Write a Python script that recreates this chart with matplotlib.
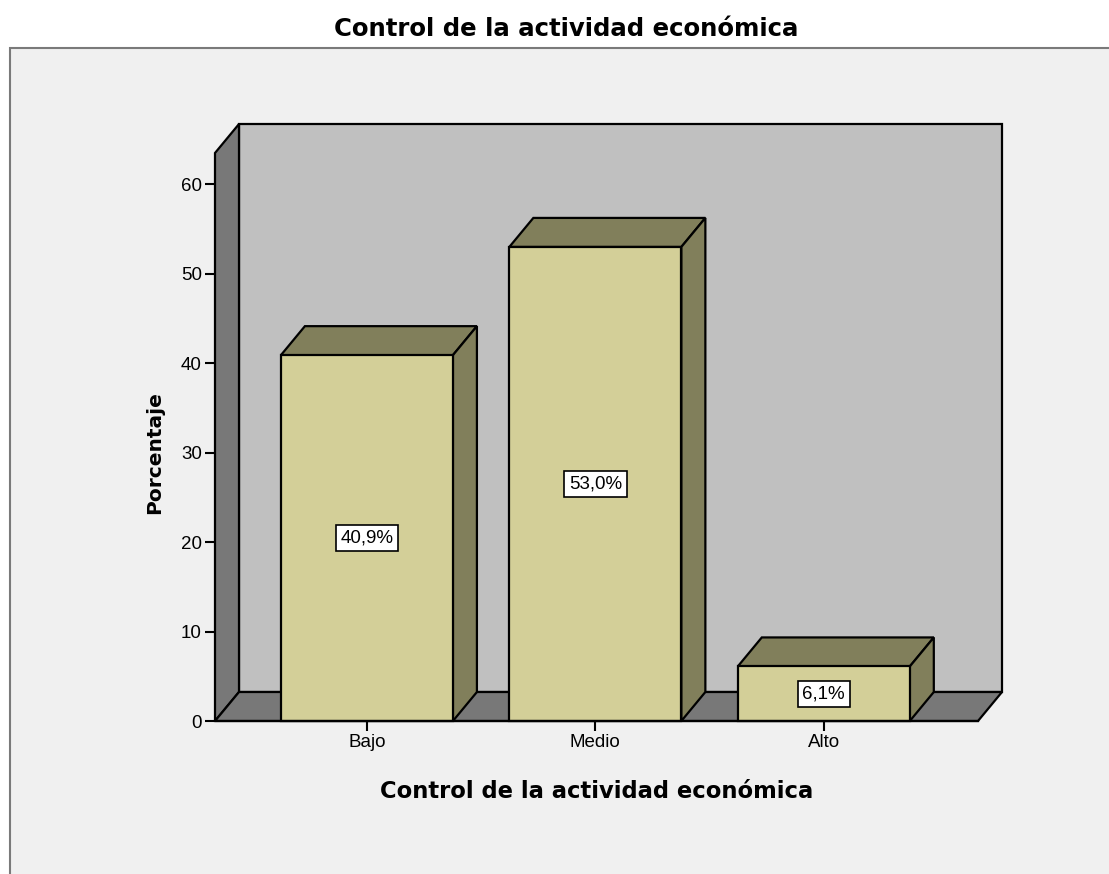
import matplotlib.pyplot as plt
from matplotlib.patches import Polygon, Rectangle

plt.rcParams['font.family'] = ['Liberation Sans', 'DejaVu Sans']

categorias = ["Bajo", "Medio", "Alto"]
porcentajes = [40.9, 53.0, 6.1]
etiquetas = ["40,9%", "53,0%", "6,1%"]
titulo = "Control de la actividad económica"

W, H = 1109, 874
fig = plt.figure(figsize=(W / 100, H / 100), dpi=100)
fig.patch.set_facecolor("white")

# marco gris claro del grafico (detras de los ejes)
marco = Rectangle((10 / W, -0.01), 1.0, (H - 48) / H + 0.01,
                  transform=fig.transFigure, facecolor="#f0f0f0",
                  edgecolor="#7a7a7a", lw=1.5, zorder=-5)
fig.add_artist(marco)

ax = fig.add_axes([215 / W, (H - 721) / H, 763 / W, (721 - 153) / H])
ax.set_facecolor("none")
x0, x1 = -0.665, 2.675
y1 = 63.5
ax.set_xlim(x0, x1)
ax.set_ylim(0, y1)

# profundidad 3D en unidades de datos (24 px a la derecha, 29 px hacia arriba)
px_x = 763 / (x1 - x0)
px_y = (721 - 153) / y1
dx = 24 / px_x
dy = 29 / px_y

pared = "#c0c0c0"
oscuro = "#787878"
frente = "#d3cf98"
lado = "#817f5b"
kw = dict(edgecolor="black", lw=1.6, clip_on=False, joinstyle="miter")

# pared del fondo, pared izquierda y suelo
ax.add_patch(Polygon([(x0 + dx, dy), (x1 + dx, dy), (x1 + dx, y1 + dy), (x0 + dx, y1 + dy)],
                     facecolor=pared, zorder=1, **kw))
ax.add_patch(Polygon([(x0, 0), (x0 + dx, dy), (x0 + dx, y1 + dy), (x0, y1)],
                     facecolor=oscuro, zorder=1, **kw))
ax.add_patch(Polygon([(x0, 0), (x1, 0), (x1 + dx, dy), (x0 + dx, dy)],
                     facecolor=oscuro, zorder=1, **kw))

ancho = 0.753
for i, (v, txt) in enumerate(zip(porcentajes, etiquetas)):
    a, b = i - ancho / 2, i + ancho / 2
    ax.add_patch(Polygon([(a, v), (b, v), (b + dx, v + dy), (a + dx, v + dy)],
                         facecolor=lado, zorder=3, **kw))
    ax.add_patch(Polygon([(b, 0), (b + dx, dy), (b + dx, v + dy), (b, v)],
                         facecolor=lado, zorder=3, **kw))
    ax.add_patch(Rectangle((a, 0), ancho, v, facecolor=frente, zorder=4, **kw))
    ax.text(i, v / 2, txt, ha="center", va="center", fontsize=13.5, zorder=5,
            bbox=dict(boxstyle="square,pad=0.25", facecolor="white",
                      edgecolor="black", lw=1.2))

for s in ["top", "right", "bottom", "left"]:
    ax.spines[s].set_visible(False)

ax.set_yticks(range(0, 61, 10))
ax.set_xticks(range(len(categorias)))
ax.set_xticklabels(categorias)
ax.tick_params(axis="both", direction="out", length=7.5, width=1.5,
               labelsize=13.5, colors="black", pad=2)
ax.plot([x0, x1], [0, 0], color="black", lw=1.6, clip_on=False, zorder=6)

negrita = dict(family="DejaVu Sans", fontweight="bold")
ax.set_ylabel("Porcentaje", fontsize=14.5, **negrita)
ax.yaxis.label.set_verticalalignment("center")
ax.yaxis.set_label_coords((155 - 215) / 763, 30, transform=ax.get_yaxis_transform())
ax.set_xlabel(titulo, fontsize=16.3, **negrita)
ax.xaxis.label.set_verticalalignment("baseline")
ax.xaxis.set_label_coords(0.5, (721 - 798) / 568)

fig.text(566 / W, 1 - 36 / H, titulo, ha="center", va="baseline",
         fontsize=17.6, **negrita)

fig.savefig("out.png", dpi=100, facecolor="white")
